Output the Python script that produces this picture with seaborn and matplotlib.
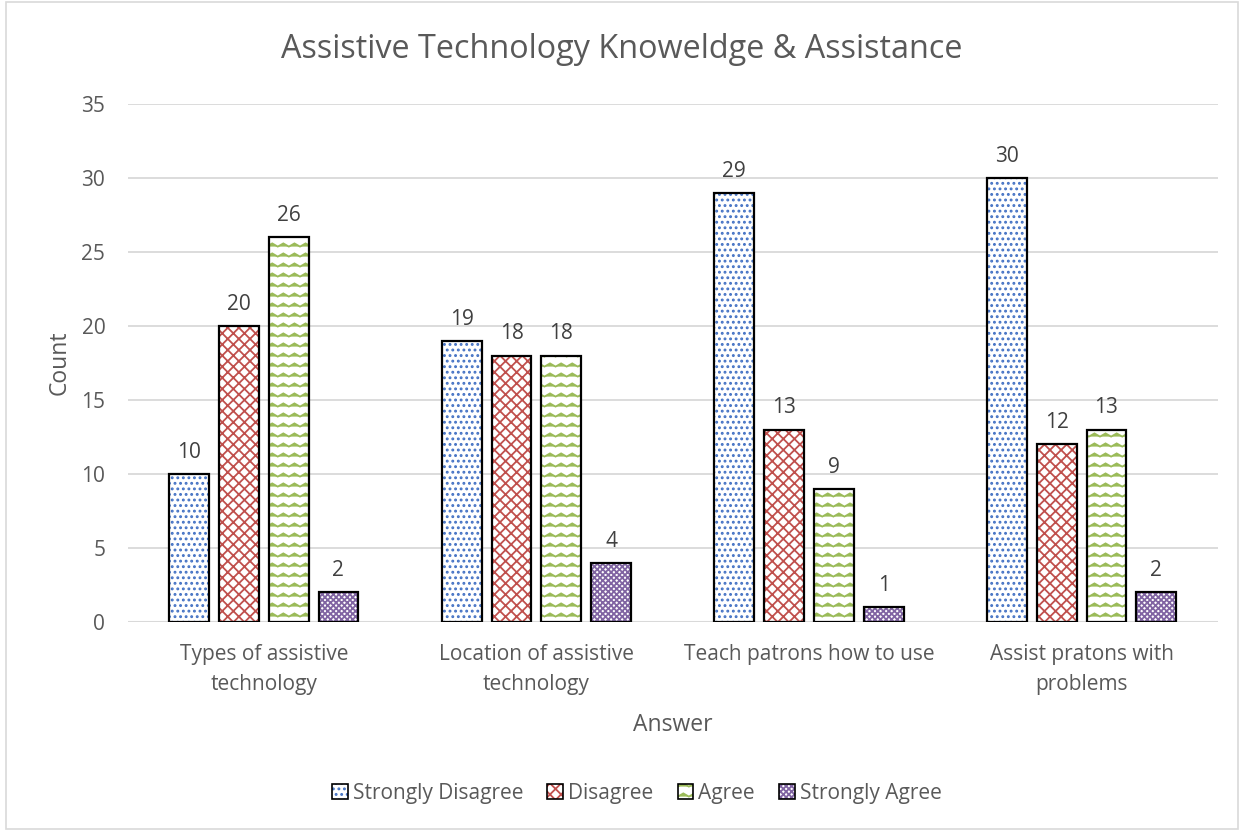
import numpy as np
import pandas as pd
import matplotlib
matplotlib.use("Agg")
import matplotlib.pyplot as plt
import matplotlib.hatch as mhatch
import matplotlib.colors as mcolors
from matplotlib.patches import Patch, Rectangle
from matplotlib.path import Path
import seaborn as sns

# ---- data -------------------------------------------------------------
categories = [
    "Types of assistive\ntechnology",
    "Location of assistive\ntechnology",
    "Teach patrons how to use",
    "Assist pratons with\nproblems",
]
responses = ["Strongly Disagree", "Disagree", "Agree", "Strongly Agree"]
strongly_disagree = [10, 19, 29, 30]
disagree = [20, 18, 13, 12]
agree = [26, 18, 9, 13]
strongly_agree = [2, 4, 1, 2]
y_ticks = [0, 5, 10, 15, 20, 25, 30, 35]

series = [strongly_disagree, disagree, agree, strongly_agree]
df = pd.DataFrame({
    "Answer": np.tile(categories, len(responses)),
    "Response": np.repeat(responses, len(categories)),
    "Count": np.concatenate(series),
})

pattern_colors = ["#4472C4", "#C0504D", "#9BBB59", "#8064A2"]
hatches = ["...", "xxx", "OO", "xxxxxx"]


# Wavy horizontal hatch, registered in place of the large-circle 'O' hatch.
class WaveHatch(mhatch.HatchPatternBase):
    periods = 9
    amp = 0.016

    def __init__(self, hatch, density):
        self.num_rows = int(hatch.count("O") * density * 5 // 6)
        self.pts = 2 * self.periods + 1
        self.num_vertices = self.num_rows * self.pts

    def set_vertices_and_codes(self, vertices, codes):
        rows, step = np.linspace(0.0, 1.0, self.num_rows, False, retstep=True)
        rows = rows + step / 2
        xs = np.linspace(0.0, 1.0, self.pts)
        offs = np.where(np.arange(self.pts) % 2 == 0, -self.amp, self.amp)
        for i, y in enumerate(rows):
            sl = slice(i * self.pts, (i + 1) * self.pts)
            vertices[sl, 0] = xs
            vertices[sl, 1] = y + offs
            codes[sl] = Path.LINETO
            codes[i * self.pts] = Path.MOVETO


mhatch._hatch_types = [
    WaveHatch if t is mhatch.LargeCircles else t for t in mhatch._hatch_types
]

# ---- style ------------------------------------------------------------
sns.set_theme(style="white")
plt.rcParams["font.family"] = ["Open Sans", "DejaVu Sans"]
plt.rcParams["hatch.linewidth"] = 1.3
text_color = "#595959"
fs = 15

fig = plt.figure(figsize=(12.44, 8.31), dpi=100)
ax = fig.add_axes([0.1025, 0.2515, 0.8765, 0.6235])

sns.barplot(
    data=df, x="Answer", y="Count", hue="Response",
    order=categories, hue_order=responses,
    palette=["white"] * 4, width=0.73, gap=0.2,
    errorbar=None, legend=False, ax=ax,
)

for container, color, hatch in zip(ax.containers, pattern_colors, hatches):
    for bar in container:
        bar.set_facecolor("white")
        bar.set_edgecolor(color)
        bar.set_linewidth(0)
        bar.set_hatch(hatch)
        bar._hatch_color = mcolors.to_rgba(color)
        ax.add_patch(Rectangle(bar.get_xy(), bar.get_width(), bar.get_height(),
                               fill=False, edgecolor="black", linewidth=1.6,
                               zorder=3))
    ax.bar_label(container, padding=8, fontsize=fs, color="#404040")

ax.set_ylim(0, 35)
ax.set_xlim(-0.5, 3.5)
ax.set_yticks(y_ticks)
ax.yaxis.grid(True, color="#D9D9D9", linewidth=1.3)
ax.set_axisbelow(True)
for side in ["left", "right", "top", "bottom"]:
    ax.spines[side].set_visible(False)
ax.axhline(0, color="#D9D9D9", linewidth=1.5, zorder=1)

ax.tick_params(axis="y", length=0, pad=16, labelsize=fs, labelcolor=text_color)
ax.tick_params(axis="x", length=0, pad=16, labelsize=fs, labelcolor=text_color)
for lbl in ax.get_xticklabels():
    lbl.set_linespacing(1.55)

ax.set_xlabel("Answer", fontsize=16.5, color=text_color)
ax.set_ylabel("Count", fontsize=16.5, color=text_color)
ax.xaxis.set_label_coords(0.5, -0.176)
ax.yaxis.set_label_coords(-0.051, 0.5)

fig.text(0.5, 0.94, "Assistive Technology Knoweldge & Assistance",
         ha="center", va="center", fontsize=23.3, color=text_color)

handles = []
for color, hatch, name in zip(pattern_colors, hatches, responses):
    h = Patch(facecolor="white", edgecolor="black", linewidth=1.2,
              hatch=hatch, label=name)
    h._hatch_color = mcolors.to_rgba(color)
    handles.append(h)
fig.legend(handles=handles, loc="center", bbox_to_anchor=(0.512, 0.045),
           ncol=4, frameon=False, fontsize=fs, labelcolor=text_color,
           handlelength=0.75, handleheight=0.75, handletextpad=0.25,
           columnspacing=1.15)

# thin border around the whole chart area
fig.add_artist(Rectangle((0.005, 0.003), 0.99, 0.994, transform=fig.transFigure,
                         fill=False, edgecolor="#D9D9D9", linewidth=1.2))

fig.savefig("out.png", dpi=100)
